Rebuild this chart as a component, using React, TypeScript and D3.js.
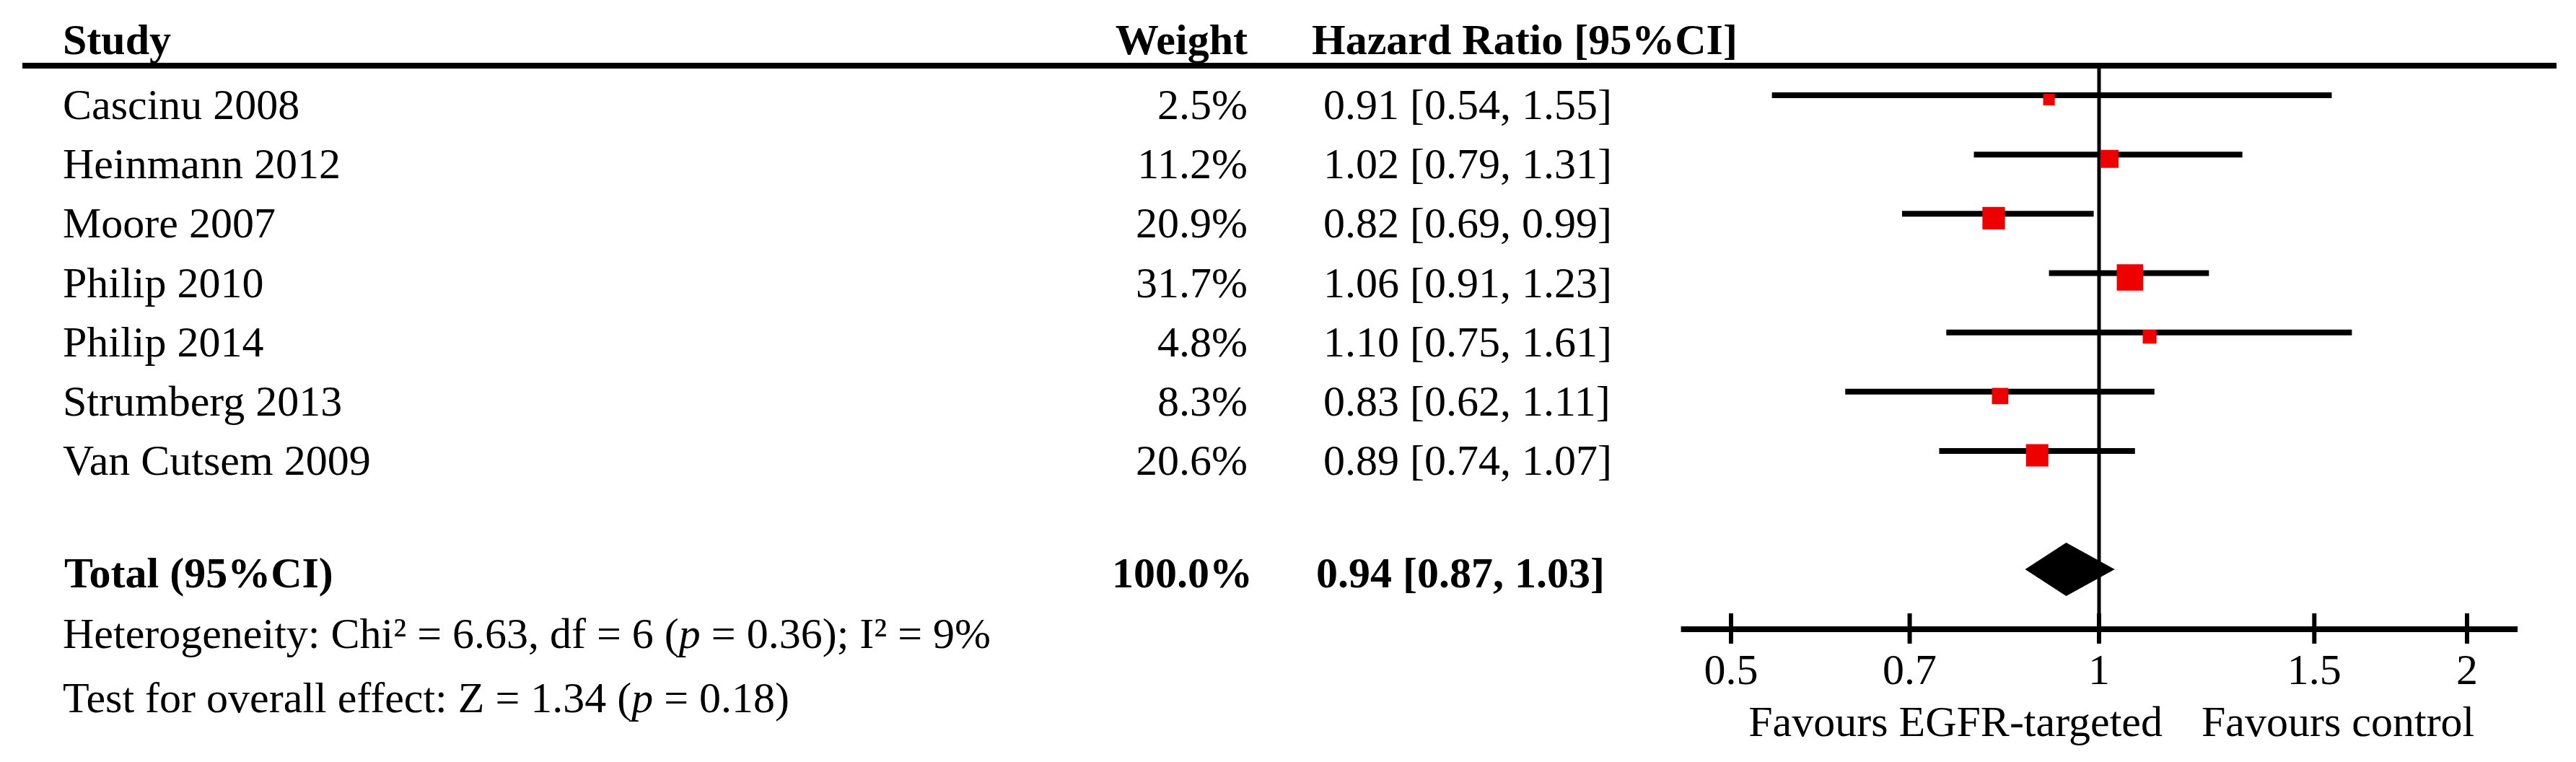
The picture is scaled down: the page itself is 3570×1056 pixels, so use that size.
import React from "react";
import * as d3 from "d3";

// ---------- data ----------
const studies = [
  "Cascinu 2008",
  "Heinmann 2012",
  "Moore 2007",
  "Philip 2010",
  "Philip 2014",
  "Strumberg 2013",
  "Van Cutsem 2009",
];
const weights = [2.5, 11.2, 20.9, 31.7, 4.8, 8.3, 20.6];
const hazardRatios = [0.91, 1.02, 0.82, 1.06, 1.1, 0.83, 0.89];
const ciLower = [0.54, 0.79, 0.69, 0.91, 0.75, 0.62, 0.74];
const ciUpper = [1.55, 1.31, 0.99, 1.23, 1.61, 1.11, 1.07];

const totalLabel = "Total (95%CI)";
const totalWeight = 100.0;
const totalHR = [0.94, 0.87, 1.03]; // estimate, lower, upper

const headers = ["Study", "Weight", "Hazard Ratio [95%CI]"];
const tickValues = [0.5, 0.7, 1, 1.5, 2];
const axisDomain = [0.455, 2.2];
const favoursLabels = ["Favours EGFR-targeted", "Favours control"];

// ---------- layout ----------
const W = 3570;
const H = 1056;
const FONT = "'Liberation Serif', 'Times New Roman', Times, serif";
const FS = 60;

const xLeftText = 87;
const xWeightRight = 1729;
const xHRLeft = 1834;

const headerBaseline = 75;
const topLineY = 91;
const totalBaseline = 814;
const hetBaseline = 898;
const testBaseline = 987;
const axisY = 872;
const tickLabelBaseline = 948;
const favoursBaseline = 1020;

const fmt2 = (v: number) => v.toFixed(2);

export default function App() {
  const x = d3.scaleLog().domain([0.5, 2]).range([2399, 3419]);
  const rowY = d3
    .scaleLinear()
    .domain([0, studies.length - 1])
    .range([165, 658]);
  const size = d3.scaleSqrt().domain([0, 35]).range([8, 38]);

  const x1 = x(1);
  const diamondY = totalBaseline - 25;
  const diamondHalf = 37;
  const diamond = d3.line()([
    [x(totalHR[1]), diamondY],
    [x(totalHR[0]), diamondY - diamondHalf],
    [x(totalHR[2]), diamondY],
    [x(totalHR[0]), diamondY + diamondHalf],
  ]) + "Z";

  return (
    <svg
      width={W}
      height={H}
      viewBox={`0 0 ${W} ${H}`}
      style={{ position: "absolute", left: 0, top: 0, background: "#fff" }}
      fontFamily={FONT}
      fontSize={FS}
    >
      <rect x={0} y={0} width={W} height={H} fill="#fff" />

      {/* headers */}
      <g fontWeight="bold" fill="#000">
        <text x={xLeftText} y={headerBaseline}>{headers[0]}</text>
        <text x={xWeightRight} y={headerBaseline} textAnchor="end">{headers[1]}</text>
        <text x={xHRLeft - 16} y={headerBaseline}>{headers[2]}</text>
      </g>

      {/* top rule */}
      <line x1={31} x2={3543} y1={topLineY} y2={topLineY} stroke="#000" strokeWidth={8} />

      {/* reference line at HR = 1 */}
      <line x1={x1} x2={x1} y1={topLineY} y2={axisY} stroke="#000" strokeWidth={5} />

      {/* study rows */}
      {studies.map((s, i) => {
        const yb = rowY(i);
        const yl = yb - 33;
        const sq = size(weights[i]);
        return (
          <g key={s}>
            <text x={xLeftText} y={yb}>{s}</text>
            <text x={xWeightRight} y={yb} textAnchor="end">
              {weights[i].toFixed(1)}%
            </text>
            <text x={xHRLeft} y={yb}>
              {`${fmt2(hazardRatios[i])} [${fmt2(ciLower[i])}, ${fmt2(ciUpper[i])}]`}
            </text>
            <line
              x1={x(ciLower[i])}
              x2={x(ciUpper[i])}
              y1={yl}
              y2={yl}
              stroke="#000"
              strokeWidth={8}
            />
            <rect
              x={x(hazardRatios[i]) - sq / 2}
              y={yl + 6 - sq / 2}
              width={sq}
              height={sq}
              fill="#ee0000"
            />
          </g>
        );
      })}

      {/* total row */}
      <g fontWeight="bold">
        <text x={xLeftText + 2} y={totalBaseline}>{totalLabel}</text>
        <text x={xWeightRight + 7} y={totalBaseline} textAnchor="end">
          {totalWeight.toFixed(1)}%
        </text>
        <text x={xHRLeft - 10} y={totalBaseline}>
          {`${fmt2(totalHR[0])} [${fmt2(totalHR[1])}, ${fmt2(totalHR[2])}]`}
        </text>
      </g>
      <path d={diamond} fill="#000" />

      {/* heterogeneity & overall effect */}
      <text x={xLeftText} y={hetBaseline} style={{ whiteSpace: "pre" }}>
        {"Heterogeneity: Chi² = 6.63, df = 6 ("}
        <tspan fontStyle="italic">p</tspan>
        {" = 0.36); I² = 9%"}
      </text>
      <text x={xLeftText} y={testBaseline} style={{ whiteSpace: "pre" }}>
        {"Test for overall effect: Z = 1.34 ("}
        <tspan fontStyle="italic">p</tspan>
        {" = 0.18)"}
      </text>

      {/* x axis */}
      <line
        x1={x(axisDomain[0])}
        x2={x(axisDomain[1])}
        y1={axisY}
        y2={axisY}
        stroke="#000"
        strokeWidth={8}
      />
      {tickValues.map((t) => (
        <g key={t}>
          <line x1={x(t)} x2={x(t)} y1={axisY - 22} y2={axisY + 20} stroke="#000" strokeWidth={6} />
          <text x={x(t)} y={tickLabelBaseline} textAnchor="middle">
            {String(t)}
          </text>
        </g>
      ))}
      <text x={x1 + 88} y={favoursBaseline} textAnchor="end">{favoursLabels[0]}</text>
      <text x={x1 + 142} y={favoursBaseline}>{favoursLabels[1]}</text>
    </svg>
  );
}
